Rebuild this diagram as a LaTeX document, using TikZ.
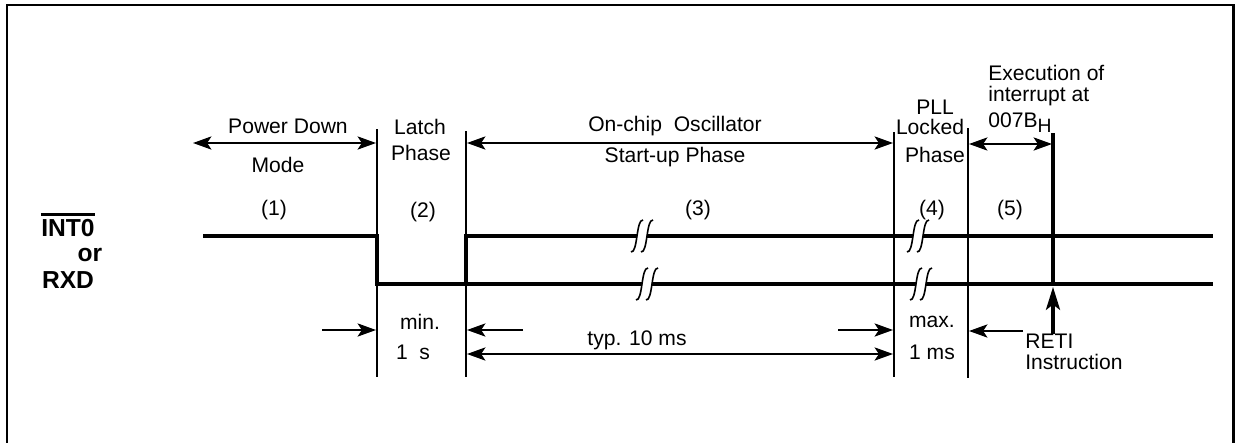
\documentclass[tikz,border=0pt]{standalone}
\usepackage{fontspec}
\setmainfont{Liberation Sans}
\usetikzlibrary{arrows.meta, positioning}

\tikzset{
    linegap/.pic={
        \fill[white] (-5,-3) rectangle (5,3);
        \draw[line width=0.9pt] (-11,16) .. controls (-4,17) and (-6,-17) .. (1,-16);
        \draw[line width=0.9pt] (-1,16) .. controls (6,17) and (4,-17) .. (11,-16);
    }
}

\begin{document}
\begin{tikzpicture}[
    x=0.02cm, y=-0.02cm,
    frame/.style={line width=1.5pt},
    phase/.style={line width=1.1pt},
    sig/.style={line width=1.9pt},
    span/.style={{Stealth[length=10.5pt, width=7.5pt, inset=2.5pt]}-{Stealth[length=10.5pt, width=7.5pt, inset=2.5pt]}, line width=1.25pt},
    pointer/.style={-{Stealth[length=10.5pt, width=7.5pt, inset=2.5pt]}, line width=1.25pt},
    lbl/.style={font=\fontsize{12}{14}\selectfont, inner sep=0pt},
    pin/.style={font=\bfseries\fontsize{14}{16}\selectfont, inner sep=0pt}
]

\useasboundingbox (0,0) rectangle (1235,443);
\draw[frame] (7,5) rectangle (1233.5,450);

% phase borders
\foreach \x/\t/\b in {377/129/377, 466/131/377, 894/132/377, 968/128/378}
    \draw[phase] (\x,\t) -- (\x,\b);
\draw[line width=2.4pt] (1053,133) -- (1053,284);

% signal
\draw[sig] (203,236) -- (377,236) -- (377,284) -- (1213,284);
\draw[sig] (466,284) -- (466,236) -- (1213,236);
\pic at (642,236) {linegap};
\pic at (647,284) {linegap};
\pic at (918,236) {linegap};
\pic at (921,284) {linegap};

% pin names
\node[pin] (int0) at (68,228) {INT0};
\draw[line width=1.2pt] ([yshift=2.5pt]int0.north west) -- ([yshift=2.5pt]int0.north east);
\node[pin] (orTxt) at (90,255) {or};
\node[pin] (rxd) at (68,280) {RXD};

% phase texts
\node[lbl] (pdTxt) at (288,126) {Power Down};
\node[lbl] (modeTxt) at (278,165) {Mode};
\node[lbl] (n1) at (274,210) {(1)};
\node[lbl] (latchTxt) at (420,127) {Latch};
\node[lbl] (latchPh) at (421,153) {Phase};
\node[lbl] (n2) at (423,212) {(2)};
\node[lbl] (oscTxt) at (675,126) {On-chip\ \ Oscillator};
\node[lbl] (startTxt) at (675,157) {Start-up Phase};
\node[lbl] (n3) at (698,210) {(3)};
\node[lbl] (pllTxt) at (935,107) {PLL};
\node[lbl] (lockTxt) at (930,127) {Locked};
\node[lbl] (pllPh) at (935,155) {Phase};
\node[lbl] (n4) at (932,210) {(4)};
\node[lbl] (n5) at (1010,210) {(5)};
\node[lbl, align=left, anchor=north west, font=\fontsize{12}{11.7}\selectfont] (exec) at (988,65)
    {Execution of\\interrupt at\\[3.5pt]007B\raisebox{-0.45ex}{\fontsize{11}{11}\selectfont H}};

% timing texts
\node[lbl] (minTxt) at (420,322) {min.};
\node[lbl] (oneS) at (413,352) {1\ \ s};
\node[lbl] (typTxt) at (637,340) {typ. 10 ms};
\node[lbl] (maxTxt) at (932,322) {max.};
\node[lbl] (oneMs) at (932,352) {1 ms};
\node[lbl, align=left, anchor=north west, font=\fontsize{12}{11.6}\selectfont] (reti) at (1025,334)
    {RETI\\Instruction};

% arrow ends
\coordinate (pdL) at (193,143);
\coordinate (pdR) at (376,143);
\coordinate (oscL) at (467,143);
\coordinate (oscR) at (893,143);
\coordinate (intL) at (969,144);
\coordinate (intR) at (1052,144);
\coordinate (latchIn) at (322,330);
\coordinate (latchEdge) at (376,330);
\coordinate (oscIn) at (523,330);
\coordinate (oscEdge) at (467,330);
\coordinate (typL) at (467,354);
\coordinate (typR) at (893,354);
\coordinate (pllIn) at (838,330);
\coordinate (pllEdge) at (893,330);
\coordinate (retIn) at (1023,331);
\coordinate (retEdge) at (969,331);
\coordinate (retiFoot) at (1053,334);
\coordinate (retiHead) at (1053,287);

\draw[span] (pdL) -- (pdR);
\draw[span] (oscL) -- (oscR);
\draw[span] (intL) -- (intR);
\draw[span] (typL) -- (typR);
\draw[pointer] (latchIn) -- (latchEdge);
\draw[pointer] (oscIn) -- (oscEdge);
\draw[pointer] (pllIn) -- (pllEdge);
\draw[pointer] (retIn) -- (retEdge);
\draw[-{Stealth[length=13pt, width=8pt, inset=3pt]}, line width=1.9pt] (retiFoot) -- (retiHead);

\end{tikzpicture}
\end{document}
